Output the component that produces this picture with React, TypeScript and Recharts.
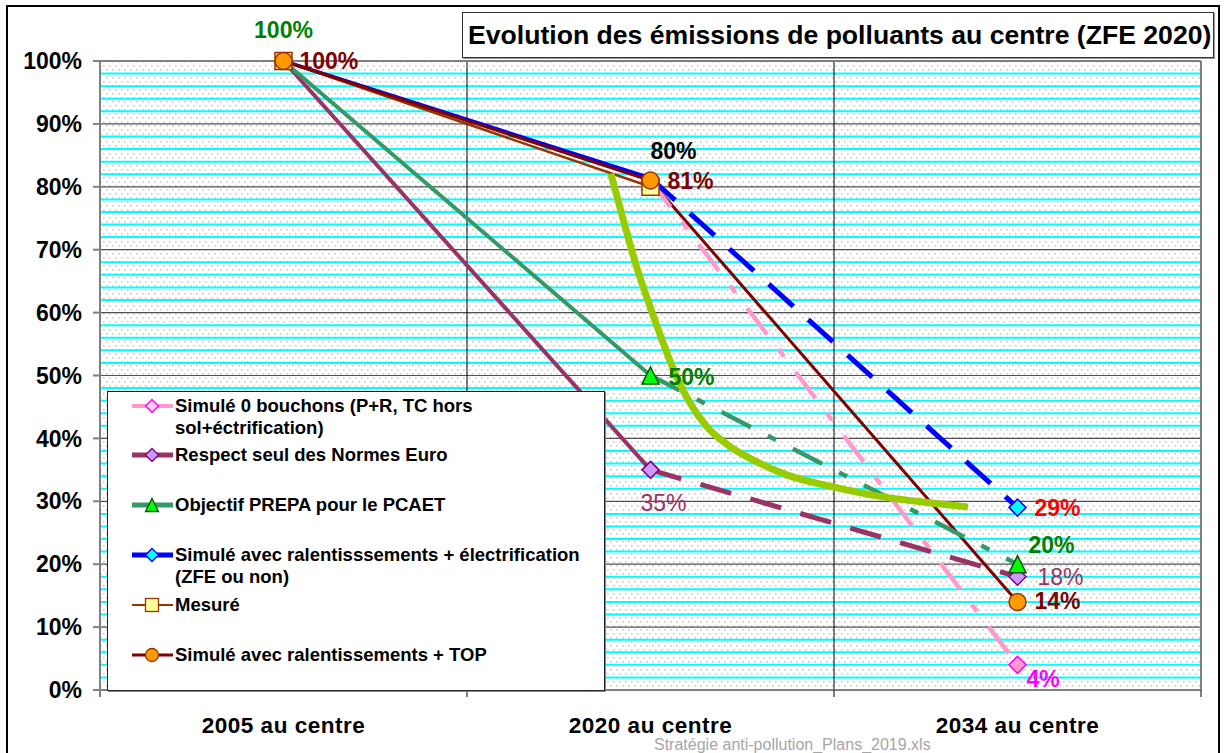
import React from 'react';
import { LineChart, Line, XAxis, YAxis, CartesianGrid } from 'recharts';

const FONT = '"Liberation Sans", Arial, Helvetica, sans-serif';

// ---- data ----
const categories = ['2005 au centre', '2020 au centre', '2034 au centre'];
const categoryPositions = [0.5, 1.5, 2.5];
const categoryBoundaries = [1, 2];
const xTicks = [0, 0.5, 1, 1.5, 2, 2.5, 3];
const yTicks = [0, 10, 20, 30, 40, 50, 60, 70, 80, 90, 100];
const minorLines = [
  2, 4, 6, 8, 12, 14, 16, 18, 22, 24, 26, 28, 32, 34, 36, 38, 42, 44, 46, 48,
  52, 54, 56, 58, 62, 64, 66, 68, 72, 74, 76, 78, 82, 84, 86, 88, 92, 94, 96, 98,
];

const simule0Bouchons = [null, 81, 4];
const normesEuro = [100, 35, 18];
const objectifPrepa = [100, 50, 20];
const ralentElectrif = [100, 81.4, 29];
const mesure = [100, 80, null];
const ralentTop = [100, 81, 14];

// hand-drawn green curve (position along the category axis, %)
const courbeX = [1.392, 1.426, 1.462, 1.499, 1.535, 1.571, 1.608, 1.653, 1.717, 1.789, 1.871, 1.997, 2.134, 2.27, 2.365];
const courbeY = [82.1, 74.7, 67.3, 60.9, 55.1, 49.8, 45.6, 41.9, 38.7, 36.3, 34.2, 32.3, 30.7, 29.7, 29.1];

const legendLabels = [
  'Simulé 0 bouchons (P+R, TC hors\nsol+éctrification)',
  'Respect seul des Normes Euro',
  'Objectif PREPA pour le PCAET',
  'Simulé avec ralentisssements + électrification\n(ZFE ou non)',
  'Mesuré',
  'Simulé avec ralentissements + TOP',
];

const titleText = 'Evolution des émissions de polluants au centre (ZFE 2020)';
const footerText = 'Stratégie anti-pollution_Plans_2019.xls';

// ---- series styling ----
type MarkerType = 'diamond' | 'triangle' | 'square' | 'circle';
interface SeriesCfg {
  key: string;
  values: (number | null)[];
  color: string;
  width: number;
  solidTo: number;
  dash: string | null;
  dashWidth: number;
  marker: MarkerType;
  mFill: string;
  mStroke: string;
  markerAt: number[];
  legendWidth: number;
  legendTop: number;
}

const series: SeriesCfg[] = [
  { key: 'pink', values: simule0Bouchons, color: '#FF99CC', width: 4.5, solidTo: 1, dash: '33 19 9 19', dashWidth: 4.5, marker: 'diamond', mFill: '#FF99CC', mStroke: '#FF00FF', markerAt: [2], legendWidth: 4, legendTop: 14 },
  { key: 'euro', values: normesEuro, color: '#993366', width: 4, solidTo: 1, dash: '32 20', dashWidth: 5, marker: 'diamond', mFill: '#CC99FF', mStroke: '#800080', markerAt: [1, 2], legendWidth: 5, legendTop: 63 },
  { key: 'prepa', values: objectifPrepa, color: '#339966', width: 4, solidTo: 1, dash: '33 19 9 19', dashWidth: 4.5, marker: 'triangle', mFill: '#00FF00', mStroke: '#005500', markerAt: [1, 2], legendWidth: 5, legendTop: 113 },
  { key: 'elec', values: ralentElectrif, color: '#0000FF', width: 3.5, solidTo: 1, dash: '33 20', dashWidth: 5, marker: 'diamond', mFill: '#00FFFF', mStroke: '#0000FF', markerAt: [2], legendWidth: 5, legendTop: 163 },
  { key: 'mesure', values: mesure, color: '#993300', width: 2.5, solidTo: 2, dash: null, dashWidth: 0, marker: 'square', mFill: '#FFFF99', mStroke: '#993300', markerAt: [0, 1], legendWidth: 2, legendTop: 213 },
  { key: 'top', values: ralentTop, color: '#800000', width: 3, solidTo: 2, dash: null, dashWidth: 0, marker: 'circle', mFill: '#FF9900', mStroke: '#993300', markerAt: [0, 1, 2], legendWidth: 3, legendTop: 263 },
];

const dataLabels = [
  { key: 'prepa', index: 0, dx: 0, dy: -31, anchor: 'middle', color: '#008000', bold: true },
  { key: 'top', index: 0, dx: 16, dy: 0, anchor: 'start', color: '#800000', bold: true },
  { key: 'mesure', index: 1, dx: 23, dy: -36, anchor: 'middle', color: '#000000', bold: true },
  { key: 'top', index: 1, dx: 17, dy: 0, anchor: 'start', color: '#800000', bold: true },
  { key: 'prepa', index: 1, dx: 18, dy: 1, anchor: 'start', color: '#008000', bold: true },
  { key: 'euro', index: 1, dx: 13, dy: 33, anchor: 'middle', color: '#993366', bold: false },
  { key: 'elec', index: 2, dx: 17, dy: 0, anchor: 'start', color: '#FF0000', bold: true },
  { key: 'prepa', index: 2, dx: 11, dy: -19, anchor: 'start', color: '#008000', bold: true },
  { key: 'euro', index: 2, dx: 20, dy: 0, anchor: 'start', color: '#993366', bold: false },
  { key: 'top', index: 2, dx: 17, dy: -1, anchor: 'start', color: '#800000', bold: true },
  { key: 'pink', index: 2, dx: 9, dy: 14, anchor: 'start', color: '#FF00FF', bold: true },
];

// ---- built tables ----
const chartData = categories.map((name, i) => {
  const row: Record<string, any> = { x: categoryPositions[i], name };
  series.forEach((s) => {
    row[s.key] = s.values[i];
    row[s.key + '_s'] = i <= s.solidTo ? s.values[i] : null;
    row[s.key + '_d'] = s.dash && i >= s.solidTo ? s.values[i] : null;
  });
  return row;
});

const courbeData = courbeX.map((x, i) => ({ x, courbe: courbeY[i] }));

// ---- shapes ----
function MarkerShape({ type, cx, cy, size, fill, stroke, sw }: { type: MarkerType; cx: number; cy: number; size: number; fill: string; stroke: string; sw: number }) {
  if (type === 'diamond') {
    return <polygon points={`${cx},${cy - size} ${cx + size},${cy} ${cx},${cy + size} ${cx - size},${cy}`} fill={fill} stroke={stroke} strokeWidth={sw} />;
  }
  if (type === 'triangle') {
    return <polygon points={`${cx},${cy - size} ${cx + size},${cy + size} ${cx - size},${cy + size}`} fill={fill} stroke={stroke} strokeWidth={sw} />;
  }
  if (type === 'square') {
    return <rect x={cx - size} y={cy - size} width={size * 2} height={size * 2} fill={fill} stroke={stroke} strokeWidth={sw} />;
  }
  return <circle cx={cx} cy={cy} r={size} fill={fill} stroke={stroke} strokeWidth={sw} />;
}

const makeDot = (s: SeriesCfg) => (props: any) => {
  const { cx, cy, index, payload } = props;
  const k = `${s.key}-dot-${index}`;
  const value = payload ? payload[s.key] : null;
  if (cx == null || cy == null || value == null) return <g key={k} />;
  const showMarker = s.markerAt.includes(index);
  const lab = dataLabels.find((l) => l.key === s.key && l.index === index);
  return (
    <g key={k}>
      {showMarker && <MarkerShape type={s.marker} cx={cx} cy={cy} size={8.5} fill={s.mFill} stroke={s.mStroke} sw={1.5} />}
      {lab && (
        <text
          x={cx + lab.dx}
          y={cy + lab.dy}
          textAnchor={lab.anchor as any}
          dominantBaseline="central"
          fill={lab.color}
          fontSize={23}
          fontWeight={lab.bold ? 'bold' : 'normal'}
          fontFamily={FONT}
        >
          {`${value}%`}
        </text>
      )}
    </g>
  );
};

const XTick = (props: any) => {
  const { x, y, payload } = props;
  const i = categoryPositions.indexOf(payload.value);
  if (i >= 0) {
    return (
      <text x={x} y={y + 35} textAnchor="middle" dominantBaseline="central" fill="#000" fontSize={22.5} fontWeight="bold" fontFamily={FONT} letterSpacing={0.5}>
        {categories[i]}
      </text>
    );
  }
  return <line x1={x} x2={x} y1={y} y2={y + 7} stroke={payload.value === 0 ? '#808080' : '#000'} strokeWidth={payload.value === 0 ? 2 : 1} />;
};

function LegendIcon({ s }: { s: SeriesCfg }) {
  return (
    <svg width={44} height={22} style={{ position: 'absolute', left: 22, top: s.legendTop - 11, overflow: 'visible' }}>
      <line x1={2} x2={43} y1={11} y2={11} stroke={s.color} strokeWidth={s.legendWidth} />
      <MarkerShape type={s.marker} cx={22} cy={11} size={6.5} fill={s.key === 'pink' ? '#FFCCFF' : s.mFill} stroke={s.mStroke} sw={1.3} />
    </svg>
  );
}

export default function App() {
  return (
    <div style={{ position: 'absolute', left: 0, top: 0, width: 1226, height: 753, overflow: 'hidden', background: '#fff', fontFamily: FONT }}>
      <svg width={0} height={0} style={{ position: 'absolute' }}>
        <defs>
          <pattern id="dotPattern" x={0} y={0} width={6} height={8} patternUnits="userSpaceOnUse">
            <rect x={0} y={0} width={6} height={8} fill="#ffffff" />
            <rect x={1} y={1} width={1.6} height={1.6} fill="#cacaca" />
            <rect x={4} y={5} width={1.6} height={1.6} fill="#cacaca" />
          </pattern>
        </defs>
      </svg>
      <div style={{ position: 'absolute', left: 6, top: 5, width: 1214, height: 780, border: '2px solid #000', boxSizing: 'border-box' }} />
      <div style={{ position: 'absolute', left: 0, top: 0 }}>
        <LineChart width={1226} height={753} data={chartData} margin={{ top: 61, right: 25, bottom: 23, left: 10 }}>
          <CartesianGrid horizontal vertical={false} horizontalValues={minorLines} stroke="#00FFFF" strokeWidth={2} fill="url(#dotPattern)" fillOpacity={1} />
          <CartesianGrid horizontal vertical={false} stroke="#505050" strokeWidth={1.2} />
          <CartesianGrid horizontal={false} vertical verticalValues={categoryBoundaries} stroke="#000" strokeWidth={1} />
          <CartesianGrid horizontal horizontalValues={[100]} vertical verticalValues={[3]} stroke="#808080" strokeWidth={2} />
          <XAxis
            dataKey="x"
            type="number"
            domain={[0, 3]}
            ticks={xTicks}
            interval={0}
            tick={<XTick />}
            tickLine={false}
            tickSize={0}
            tickMargin={0}
            height={40}
            axisLine={{ stroke: '#808080', strokeWidth: 2 }}
          />
          <YAxis
            type="number"
            domain={[0, 100]}
            ticks={yTicks}
            interval={0}
            width={90}
            tickFormatter={(v: number) => `${v}%`}
            tick={{ fill: '#000', fontSize: 23, fontWeight: 'bold', fontFamily: FONT }}
            tickSize={7}
            tickMargin={11}
            tickLine={{ stroke: '#808080', strokeWidth: 2 }}
            axisLine={{ stroke: '#808080', strokeWidth: 2 }}
          />
          {series.map((s) => (
            <Line key={s.key + '_s'} dataKey={s.key + '_s'} stroke={s.color} strokeWidth={s.width} dot={false} activeDot={false} isAnimationActive={false} connectNulls={false} />
          ))}
          {series.filter((s) => s.dash).map((s) => (
            <Line key={s.key + '_d'} dataKey={s.key + '_d'} stroke={s.color} strokeWidth={s.dashWidth} strokeDasharray={s.dash as string} dot={false} activeDot={false} isAnimationActive={false} connectNulls={false} />
          ))}
          {series.map((s) => (
            <Line key={s.key + '_m'} dataKey={s.key} stroke="none" strokeWidth={0} dot={makeDot(s)} activeDot={false} isAnimationActive={false} />
          ))}
          <Line data={courbeData} dataKey="courbe" type="monotone" stroke="#99CC00" strokeWidth={7} dot={false} activeDot={false} isAnimationActive={false} />
        </LineChart>
      </div>
      <div style={{ position: 'absolute', left: 462, top: 12, width: 752, height: 46, border: '1px solid #333', boxSizing: 'border-box', background: '#fff', boxShadow: '1px 1px 0 #999' }}>
        <div style={{ position: 'absolute', left: 5, top: 0, lineHeight: '44px', fontSize: 26.6, fontWeight: 'bold', whiteSpace: 'nowrap', color: '#000' }}>{titleText}</div>
      </div>
      <div style={{ position: 'absolute', left: 107, top: 391, width: 498, height: 300, border: '1px solid #222', boxSizing: 'border-box', background: '#fff', boxShadow: '1px 1px 0 #888' }}>
        {series.map((s, i) => (
          <React.Fragment key={s.key}>
            <LegendIcon s={s} />
            <div style={{ position: 'absolute', left: 67, top: s.legendTop - 11, lineHeight: '22px', fontSize: 18.5, fontWeight: 'bold', whiteSpace: 'pre', color: '#000' }}>{legendLabels[i]}</div>
          </React.Fragment>
        ))}
      </div>
      <div style={{ position: 'absolute', left: 654, top: 736, fontSize: 16, color: '#A6A6A6', whiteSpace: 'nowrap', lineHeight: '18px' }}>{footerText}</div>
    </div>
  );
}
